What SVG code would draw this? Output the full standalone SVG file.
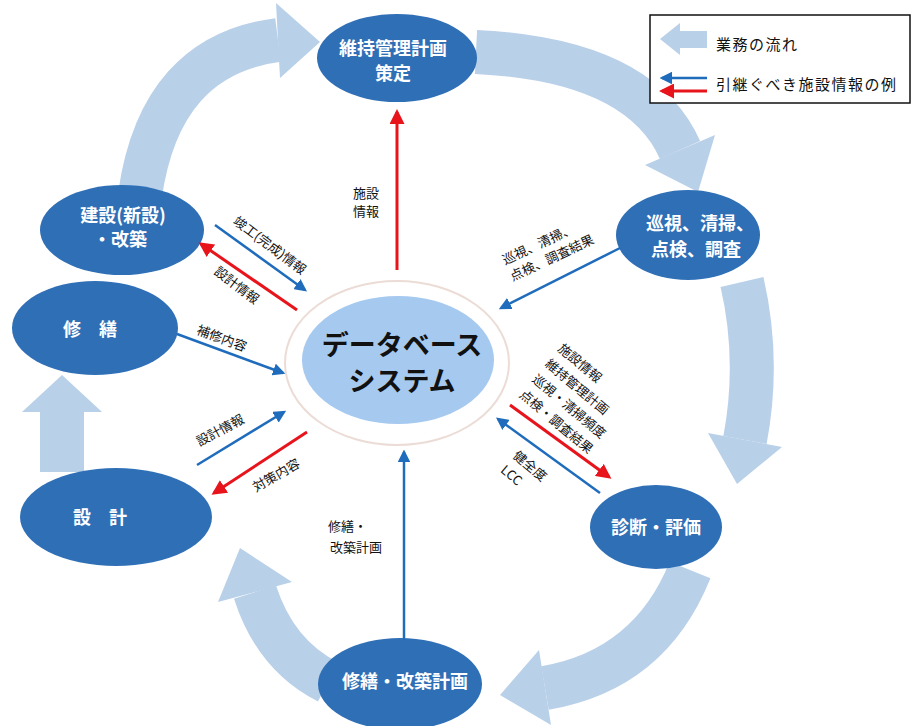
<svg xmlns="http://www.w3.org/2000/svg" width="914" height="726" viewBox="0 0 914 726">
<defs>
<style>
.node{fill:#2f6fb6;}
.nt{font-family:"Noto Sans CJK JP","Noto Sans",sans-serif;font-size:18px;font-weight:bold;fill:#ffffff;text-anchor:middle;}
.lbl{font-family:"Noto Sans CJK JP","Noto Sans",sans-serif;font-size:13px;fill:#111111;}
.flow{fill:none;stroke:#b9d0e9;stroke-width:44;}
.head{fill:#b9d0e9;}
.blue{stroke:#1f6cbc;stroke-width:2.5;fill:none;marker-end:url(#mb);}
.red{stroke:#e8141c;stroke-width:3;fill:none;marker-end:url(#mr);}
.leg{font-family:"Noto Sans CJK JP","Noto Sans",sans-serif;font-size:15px;fill:#111111;letter-spacing:1.5px;}
</style>
<marker id="mb" viewBox="0 0 10 10" refX="8" refY="5" markerWidth="5" markerHeight="5" orient="auto"><path d="M0,0 L10,5 L0,10 z" fill="#1f6cbc"/></marker>
<marker id="mr" viewBox="0 0 10 10" refX="8" refY="5" markerWidth="5" markerHeight="5" orient="auto"><path d="M0,0 L10,5 L0,10 z" fill="#e8141c"/></marker>
</defs>
<rect width="914" height="726" fill="#ffffff"/>

<g id="flow-arrows">
<path class="flow" d="M140 195 Q160 55 278 40"/>
<polygon class="head" points="276,3 320,42 280,78"/>
<path class="flow" d="M476 52 Q640 60 680 150"/>
<polygon class="head" points="645,165 715,135 698,192"/>
<path class="flow" d="M742 282 Q760 360 745 440"/>
<polygon class="head" points="708,433 782,447 737,484"/>
<path class="flow" d="M690 570 Q650 670 545 688"/>
<polygon class="head" points="551,725 539,650 500,695"/>
<path class="flow" d="M328 682 Q275 655 255 592"/>
<polygon class="head" points="292,582 218,602 240,548"/>
<path class="flow" d="M62 472 L62 410"/>
<polygon class="head" points="22,412 102,412 62,375"/>
</g>

<g id="node-db">
<ellipse cx="397" cy="363" rx="112" ry="82" fill="#ffffff" stroke="#ecdcd6" stroke-width="2"/>
<ellipse cx="398" cy="360" rx="96" ry="64" fill="#a6c9f0"/>
<text x="402" y="355" font-family="'Noto Sans CJK JP','Noto Sans',sans-serif" font-size="27" font-weight="bold" fill="#111111" text-anchor="middle">データベース</text>
<text x="402" y="391" font-family="'Noto Sans CJK JP','Noto Sans',sans-serif" font-size="27" font-weight="bold" fill="#111111" text-anchor="middle">システム</text>
</g>

<g id="node-plan">
<ellipse class="node" cx="397" cy="58" rx="80" ry="44"/>
<text class="nt" x="393" y="55">維持管理計画</text>
<text class="nt" x="393" y="80">策定</text>
</g>
<g id="node-patrol">
<ellipse class="node" cx="688" cy="235" rx="72" ry="45"/>
<text class="nt" x="700" y="230">巡視、清掃、</text>
<text class="nt" x="696" y="256">点検、調査</text>
</g>
<g id="node-diag">
<ellipse class="node" cx="656" cy="527" rx="66" ry="42"/>
<text class="nt" x="656" y="534">診断・評価</text>
</g>
<g id="node-repairplan">
<ellipse class="node" cx="400" cy="684" rx="82" ry="46"/>
<text class="nt" x="405" y="688">修繕・改築計画</text>
</g>
<g id="node-design">
<ellipse class="node" cx="116" cy="517" rx="96" ry="49"/>
<text class="nt" x="100" y="524">設　計</text>
</g>
<g id="node-repair">
<ellipse class="node" cx="95" cy="328" rx="83" ry="47"/>
<text class="nt" x="90" y="336">修　繕</text>
</g>
<g id="node-build">
<ellipse class="node" cx="122" cy="230" rx="82" ry="45"/>
<text class="nt" x="123" y="222">建設(新設)</text>
<text class="nt" x="120" y="246">・改築</text>
</g>

<g id="connectors">
<path class="red" d="M397 270 L397 112"/>
<path class="blue" d="M215 225 L305 290"/>
<path class="red" d="M297 310 L201 244"/>
<path class="blue" d="M177 334 L283 373"/>
<path class="blue" d="M620 248 L501 308"/>
<path class="red" d="M510 405 L609 477"/>
<path class="blue" d="M600 493 L498 419"/>
<path class="blue" d="M197 465 L284 412"/>
<path class="red" d="M307 432 L214 493"/>
<path class="blue" d="M404 640 L404 452"/>
</g>

<g id="labels">
<text class="lbl" x="366" y="198" text-anchor="middle">施設</text>
<text class="lbl" x="366" y="216" text-anchor="middle">情報</text>
<text class="lbl" text-anchor="middle" transform="translate(270,245) rotate(37)" y="5">竣工(完成)情報</text>
<text class="lbl" text-anchor="middle" transform="translate(237,285) rotate(37)" y="5">設計情報</text>
<text class="lbl" text-anchor="middle" transform="translate(222,338) rotate(20)" y="5">補修内容</text>
<g transform="translate(505,265) rotate(-25)">
<text class="lbl" x="0" y="0">巡視、清掃、</text>
<text class="lbl" x="0" y="18">点検、調査結果</text>
</g>
<g transform="translate(557,350) rotate(40)">
<text class="lbl" x="0" y="0">施設情報</text>
<text class="lbl" x="0" y="20">維持管理計画</text>
<text class="lbl" x="0" y="40">巡視・清掃頻度</text>
<text class="lbl" x="0" y="60">点検・調査結果</text>
</g>
<g transform="translate(512,457) rotate(40)">
<text class="lbl" x="0" y="0">健全度</text>
<text class="lbl" x="0" y="19">LCC</text>
</g>
<text class="lbl" text-anchor="middle" transform="translate(220,430) rotate(-28)" y="5">設計情報</text>
<text class="lbl" text-anchor="middle" transform="translate(276,475) rotate(-30)" y="5">対策内容</text>
<text class="lbl" x="328" y="531">修繕・</text>
<text class="lbl" x="330" y="552">改築計画</text>
</g>

<g id="legend">
<rect x="650" y="15" width="260" height="88" fill="#ffffff" stroke="#111111" stroke-width="1.5"/>
<polygon class="head" points="660,39 680,23 680,31 707,31 707,48 680,48 680,55"/>
<text class="leg" x="716" y="50">業務の流れ</text>
<path class="blue" d="M707 78 L662 78"/>
<path class="red" d="M707 91 L662 91"/>
<text class="leg" x="716" y="90">引継ぐべき施設情報の例</text>
</g>
</svg>
